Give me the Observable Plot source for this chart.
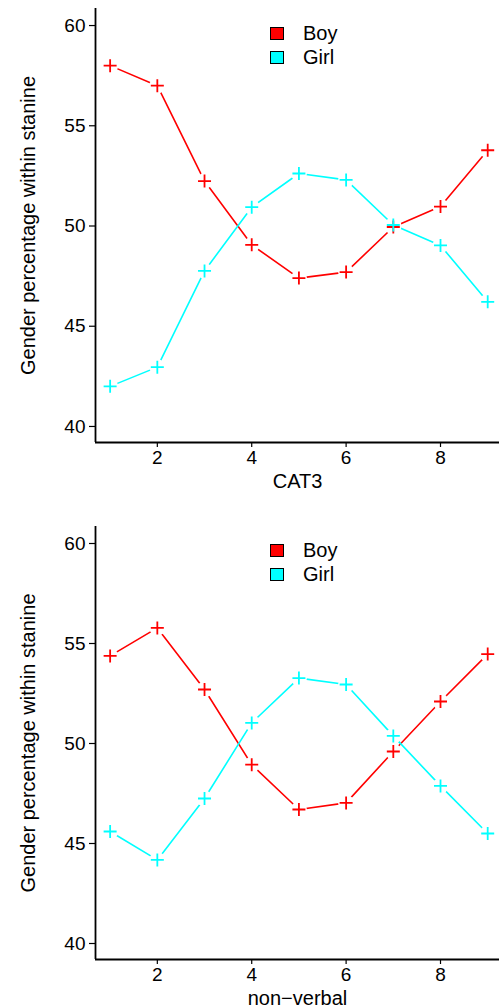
<!DOCTYPE html>
<html>
<head>
<meta charset="utf-8">
<script src="https://cdn.jsdelivr.net/npm/d3@7"></script>
<script src="https://cdn.jsdelivr.net/npm/@observablehq/plot@0.6"></script>
<style>
  html, body { margin: 0; padding: 0; background: #fff; }
  body { width: 499px; font-family: "Liberation Sans", Arial, sans-serif; }
  .panel { position: relative; width: 499px; }
  .panel svg { display: block; }
  .legend { position: absolute; left: 270px; font-size: 20px; color: #000; line-height: 24px; }
  .legend .item { display: flex; align-items: center; height: 24px; }
  .legend .sw { width: 12px; height: 11px; border: 1.3px solid #000; margin-right: 19px; }
</style>
</head>
<body>
<div id="p1" class="panel"></div>
<div id="p2" class="panel"></div>
<script>
// ---- data ----
const stanines = [1, 2, 3, 4, 5, 6, 7, 8, 9];
const sexes = ["Boy", "Girl"];
const sexColors = ["#FF0000", "#00FFFF"];
const cat3Boy  = [58.0, 57.0, 52.24, 49.06, 47.4, 47.7, 49.95, 50.97, 53.78];
const cat3Girl = [42.0, 42.96, 47.76, 50.94, 52.62, 52.3, 50.05, 49.03, 46.22];
const nvBoy    = [54.38, 55.78, 52.7, 48.94, 46.7, 47.03, 49.6, 52.1, 54.47];
const nvGirl   = [45.6, 44.18, 47.25, 51.03, 53.27, 52.95, 50.38, 47.88, 45.5];
const xTicks = [2, 4, 6, 8];
const yTicks = [40, 45, 50, 55, 60];
const yTitle = "Gender percentage within stanine";
const xTitles = ["CAT3", "non\u2212verbal"];

const cross = {
  draw(ctx, size) {
    const h = Math.sqrt(size / Math.PI);
    ctx.moveTo(-h, 0); ctx.lineTo(h, 0);
    ctx.moveTo(0, -h); ctx.lineTo(0, h);
  }
};

function rowsOf(boy, girl) {
  const rows = [];
  stanines.forEach((s, i) => {
    rows.push({stanine: s, pct: boy[i], sex: sexes[0]});
    rows.push({stanine: s, pct: girl[i], sex: sexes[1]});
  });
  return rows;
}

function panel(el, boy, girl, xTitle, height, marginTop, marginBottom, legendTop) {
  const rows = rowsOf(boy, girl);
  const xDom = [0.69, 9.25], yDom = [39.2, 60.85];
  const chart = Plot.plot({
    width: 499, height, marginLeft: 95, marginRight: 0, marginTop, marginBottom,
    style: {fontFamily: "'Liberation Sans', Arial, sans-serif", fontSize: "19px", color: "#000", background: "#fff"},
    x: {domain: xDom},
    y: {domain: yDom},
    color: {domain: sexes, range: sexColors},
    marks: [
      Plot.axisY({ticks: yTicks, tickSize: 6, tickPadding: 4, fontSize: 19, stroke: "#000", strokeWidth: 1.2,
        label: yTitle, labelAnchor: "center", labelArrow: "none", labelOffset: 75}),
      Plot.axisX({ticks: xTicks, tickSize: 5, tickPadding: 3, fontSize: 19, stroke: "#000", strokeWidth: 1.2,
        label: xTitle, labelAnchor: "center", labelArrow: "none", labelOffset: 45}),
      Plot.ruleX([xDom[0]], {stroke: "#000", strokeWidth: 1.8}),
      Plot.ruleY([yDom[0]], {stroke: "#000", strokeWidth: 1.8}),
      Plot.line(rows, {x: "stanine", y: "pct", z: "sex", stroke: "sex", strokeWidth: 1.6}),
      Plot.dot(rows, {x: "stanine", y: "pct", r: 8, fill: "#fff"}),
      Plot.dot(rows, {x: "stanine", y: "pct", stroke: "sex", symbol: cross, r: 6.5, strokeWidth: 1.8, fill: "none"})
    ]
  });
  chart.querySelectorAll("[aria-label='y-axis tick label'], [aria-label='x-axis tick label']").forEach(g => {
    g.setAttribute("font-size", "19");
    g.querySelectorAll("text").forEach(t => t.setAttribute("font-size", "19"));
  });
  chart.querySelectorAll("[aria-label='y-axis label'] text, [aria-label='x-axis label'] text").forEach(t => t.setAttribute("font-size", "20"));
  el.appendChild(chart);
  const lg = document.createElement("div");
  lg.className = "legend";
  lg.style.top = legendTop + "px";
  sexes.forEach((s, i) => {
    const it = document.createElement("div");
    it.className = "item";
    const sw = document.createElement("span");
    sw.className = "sw";
    sw.style.background = sexColors[i];
    const tx = document.createElement("span");
    tx.textContent = s;
    it.appendChild(sw); it.appendChild(tx);
    lg.appendChild(it);
  });
  el.appendChild(lg);
}

panel(document.getElementById("p1"), cat3Boy, cat3Girl, xTitles[0], 500, 8, 58, 21);
panel(document.getElementById("p2"), nvBoy, nvGirl, xTitles[1], 508, 26, 49, 38);
</script>
</body>
</html>
